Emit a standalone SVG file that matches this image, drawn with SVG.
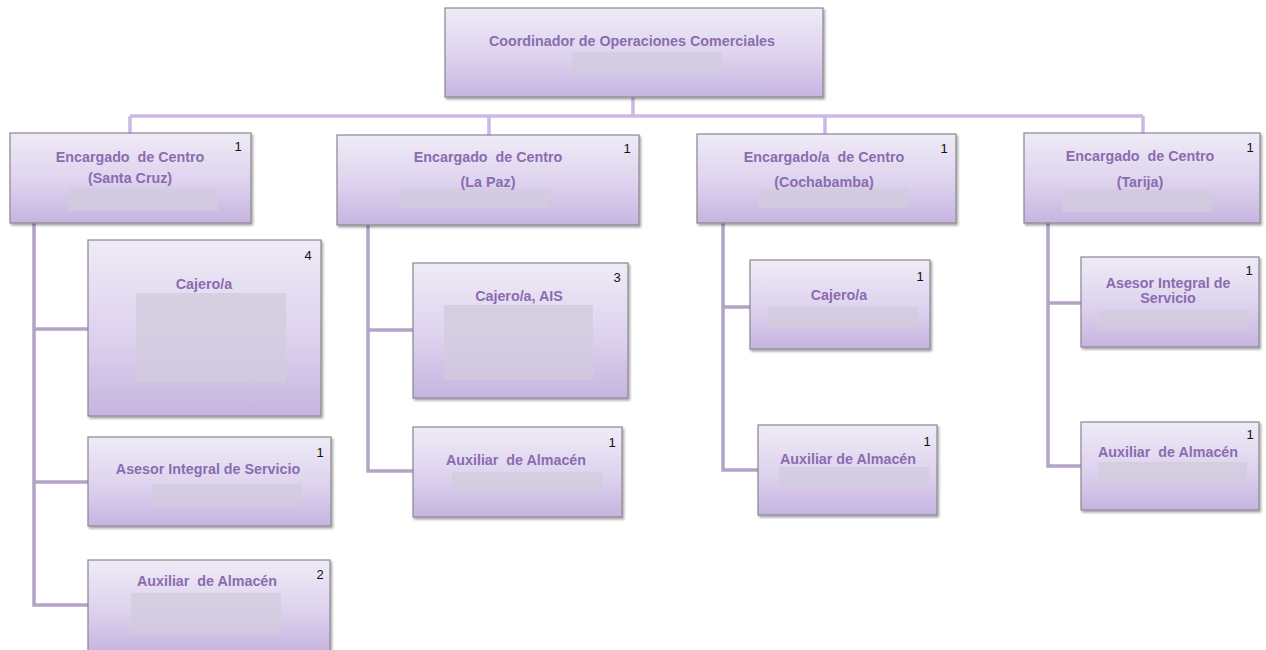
<svg xmlns="http://www.w3.org/2000/svg" width="1266" height="650" viewBox="0 0 1266 650">
<defs>
<linearGradient id="g" x1="0" y1="0" x2="0" y2="1">
<stop offset="0" stop-color="#efebf6"/>
<stop offset="0.55" stop-color="#ddd2ee"/>
<stop offset="1" stop-color="#c6b4e0"/>
</linearGradient>
<filter id="sh" x="-5%" y="-5%" width="115%" height="120%">
<feDropShadow dx="1.5" dy="2" stdDeviation="1.2" flood-color="#000" flood-opacity="0.35"/>
</filter>
<style>
.box{fill:url(#g);stroke:#8a8590;stroke-width:1.2;filter:url(#sh)}
.ph{fill:#d2cbdc;opacity:0.75}
.t{font-family:"Liberation Sans",Arial,sans-serif;font-size:14.3px;font-weight:bold;fill:#8a6cb0;text-anchor:middle;white-space:pre}
.n{font-family:"Liberation Sans",Arial,sans-serif;font-size:13px;fill:#111;text-anchor:middle}
.top{fill:none;stroke:#cbb8e6;stroke-width:3.5}
.sub{fill:none;stroke:#b3a4c6;stroke-width:3.5}
</style>
</defs>
<rect width="1266" height="650" fill="#fff"/>
<g id="connectors">
<path class="top" d="M633 97 V116 M130 116 H1143 M130 116 V133 M489 116 V135 M825 116 V134 M1143 116 V133"/>
<path class="sub" d="M34 223 V605 H88 M34 329 H88 M34 482 H88"/>
<path class="sub" d="M368 225 V471 H413 M368 330 H413"/>
<path class="sub" d="M723 223 V470 H758 M723 307 H750"/>
<path class="sub" d="M1048 223 V466 H1081 M1048 303 H1081"/>
</g>
<g id="coordinador">
<rect class="box" x="445" y="8" width="378" height="89"/>
<rect class="ph" x="572" y="52" width="150" height="23"/>
<text class="t" x="632" y="46">Coordinador de Operaciones Comerciales</text>
</g>
<g id="enc-santa-cruz">
<rect class="box" x="10" y="133" width="241" height="90"/>
<rect class="ph" x="68" y="188" width="150" height="23"/>
<text class="t" x="130" y="162">Encargado  de Centro</text>
<text class="t" x="130" y="183">(Santa Cruz)</text>
<text class="n" x="238" y="151">1</text>
</g>
<g id="cajero-sc">
<rect class="box" x="88" y="240" width="233" height="176"/>
<rect class="ph" x="136" y="293" width="150" height="90"/>
<text class="t" x="204" y="289">Cajero/a</text>
<text class="n" x="308" y="260">4</text>
</g>
<g id="asesor-sc">
<rect class="box" x="88" y="437" width="243" height="89"/>
<rect class="ph" x="152" y="484" width="150" height="23"/>
<text class="t" x="208" y="474">Asesor Integral de Servicio</text>
<text class="n" x="320" y="457">1</text>
</g>
<g id="auxiliar-sc">
<rect class="box" x="88" y="560" width="242" height="92"/>
<rect class="ph" x="131" y="593" width="150" height="41"/>
<text class="t" x="207" y="586">Auxiliar  de Almacén</text>
<text class="n" x="320" y="579">2</text>
</g>
<g id="enc-la-paz">
<rect class="box" x="337" y="135" width="302" height="90"/>
<rect class="ph" x="400" y="188" width="150" height="20"/>
<text class="t" x="488" y="162">Encargado  de Centro</text>
<text class="t" x="488" y="187">(La Paz)</text>
<text class="n" x="627" y="153">1</text>
</g>
<g id="cajero-ais-lp">
<rect class="box" x="413" y="263" width="215" height="135"/>
<rect class="ph" x="444" y="305" width="149" height="75"/>
<text class="t" x="519" y="301">Cajero/a, AIS</text>
<text class="n" x="617" y="282">3</text>
</g>
<g id="auxiliar-lp">
<rect class="box" x="413" y="427" width="209" height="90"/>
<rect class="ph" x="452" y="472" width="150" height="21"/>
<text class="t" x="516" y="465">Auxiliar  de Almacén</text>
<text class="n" x="612" y="447">1</text>
</g>
<g id="enc-cochabamba">
<rect class="box" x="697" y="134" width="259" height="89"/>
<rect class="ph" x="758" y="188" width="150" height="20"/>
<text class="t" x="824" y="162">Encargado/a  de Centro</text>
<text class="t" x="824" y="187">(Cochabamba)</text>
<text class="n" x="944" y="153">1</text>
</g>
<g id="cajero-cb">
<rect class="box" x="750" y="260" width="180" height="89"/>
<rect class="ph" x="768" y="307" width="150" height="21"/>
<text class="t" x="839" y="300">Cajero/a</text>
<text class="n" x="920" y="281">1</text>
</g>
<g id="auxiliar-cb">
<rect class="box" x="758" y="425" width="179" height="90"/>
<rect class="ph" x="779" y="467" width="150" height="21"/>
<text class="t" x="848" y="464">Auxiliar de Almacén</text>
<text class="n" x="927" y="446">1</text>
</g>
<g id="enc-tarija">
<rect class="box" x="1024" y="133" width="236" height="90"/>
<rect class="ph" x="1062" y="190" width="150" height="22"/>
<text class="t" x="1140" y="161">Encargado  de Centro</text>
<text class="t" x="1140" y="187">(Tarija)</text>
<text class="n" x="1250" y="152">1</text>
</g>
<g id="asesor-tj">
<rect class="box" x="1081" y="257" width="178" height="90"/>
<rect class="ph" x="1099" y="310" width="150" height="21"/>
<text class="t" x="1168" y="288">Asesor Integral de</text>
<text class="t" x="1168" y="303">Servicio</text>
<text class="n" x="1249" y="275">1</text>
</g>
<g id="auxiliar-tj">
<rect class="box" x="1081" y="422" width="178" height="88"/>
<rect class="ph" x="1098" y="462" width="149" height="21"/>
<text class="t" x="1168" y="457">Auxiliar  de Almacén</text>
<text class="n" x="1250" y="439">1</text>
</g>
</svg>
